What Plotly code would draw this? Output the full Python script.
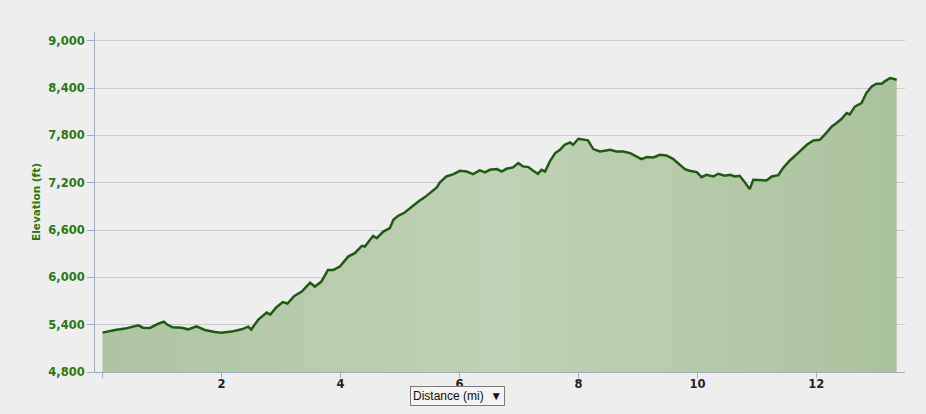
import plotly.graph_objects as go

distance_mi = [
    0.00, 0.21, 0.38, 0.49, 0.60, 0.68, 0.80, 0.93, 1.03, 1.08, 1.18, 1.33, 1.44, 1.58, 1.72, 1.89,
    2.00, 2.17, 2.34, 2.45, 2.50, 2.62, 2.76, 2.82, 2.92, 3.03, 3.11, 3.22, 3.35, 3.49, 3.57, 3.68,
    3.79, 3.88, 3.99, 4.13, 4.24, 4.36, 4.41, 4.55, 4.61, 4.72, 4.83, 4.89, 4.97, 5.08, 5.20, 5.31,
    5.42, 5.53, 5.62, 5.67, 5.78, 5.90, 6.01, 6.12, 6.23, 6.34, 6.43, 6.51, 6.63, 6.71, 6.79, 6.90,
    6.99, 7.07, 7.16, 7.24, 7.32, 7.38, 7.44, 7.52, 7.61, 7.69, 7.77, 7.86, 7.91, 8.00, 8.08, 8.16,
    8.25, 8.36, 8.47, 8.53, 8.64, 8.75, 8.87, 8.98, 9.06, 9.15, 9.26, 9.37, 9.48, 9.59, 9.71, 9.79,
    9.87, 9.99, 10.07, 10.15, 10.27, 10.35, 10.46, 10.55, 10.63, 10.71, 10.80, 10.88, 10.94, 11.05,
    11.16, 11.25, 11.36, 11.44, 11.55, 11.69, 11.84, 11.95, 12.06, 12.14, 12.26, 12.34, 12.42, 12.51,
    12.56, 12.65, 12.76, 12.84, 12.93, 13.01, 13.10, 13.15, 13.24, 13.29, 13.35,
]
elevation_ft = [
    5299, 5333, 5350, 5367, 5392, 5362, 5358, 5409, 5438, 5405, 5367, 5362, 5341, 5380, 5333, 5308,
    5299, 5312, 5341, 5375, 5339, 5465, 5555, 5528, 5618, 5686, 5668, 5762, 5819, 5933, 5883, 5946,
    6094, 6094, 6136, 6263, 6306, 6399, 6390, 6526, 6496, 6580, 6623, 6729, 6780, 6822, 6898, 6961,
    7017, 7080, 7139, 7202, 7279, 7309, 7351, 7342, 7309, 7355, 7330, 7363, 7372, 7342, 7376, 7393,
    7448, 7406, 7397, 7351, 7313, 7363, 7342, 7469, 7575, 7617, 7681, 7710, 7681, 7757, 7744, 7736,
    7626, 7596, 7609, 7617, 7596, 7596, 7575, 7533, 7499, 7524, 7520, 7554, 7545, 7503, 7427, 7372,
    7351, 7334, 7270, 7300, 7279, 7313, 7287, 7300, 7279, 7287, 7202, 7118, 7237, 7228,
    7228, 7279, 7296, 7385, 7478, 7575, 7681, 7736, 7744, 7808, 7913, 7956, 8007, 8083,
    8066, 8167, 8209, 8336, 8420, 8454, 8454, 8484, 8527, 8518, 8505,
]
x_tick_vals = [0, 2, 4, 6, 8, 10, 12]
x_tick_text = ["", "2", "4", "6", "8", "10", "12"]
y_tick_vals = [4800, 5400, 6000, 6600, 7200, 7800, 8400, 9000]

BG = "#eeeeee"
GREEN_TXT = "#2a7a0c"
AXIS_C = "#a4acbc"

fig = go.Figure()
fig.add_trace(go.Scatter(
    x=distance_mi, y=elevation_ft, mode="lines",
    line=dict(color="#1d5c10", width=2.5),
    fill="tozeroy",
    fillgradient=dict(type="horizontal",
                      colorscale=[[0, "#aec4a1"], [0.5, "#bfd2b5"], [1, "#abc29e"]]),
    hoverinfo="x+y", showlegend=False,
))

fig.update_layout(
    width=926, height=414,
    margin=dict(l=95, r=21, t=32, b=42),
    paper_bgcolor=BG, plot_bgcolor=BG,
    font=dict(family="DejaVu Sans", size=11),
    xaxis=dict(
        range=[-0.126, 13.49], tickvals=x_tick_vals, ticktext=x_tick_text,
        showgrid=False, zeroline=False,
        showline=True, linecolor=AXIS_C, linewidth=1,
        ticks="outside", ticklen=5, tickcolor=AXIS_C, ticklabelstandoff=-4,
        tickfont=dict(family="DejaVu Sans", size=11.5, color="#222222", weight="bold"),
    ),
    yaxis=dict(
        range=[4800, 9110], tickvals=y_tick_vals, tickformat=",d",
        showgrid=True, gridcolor="#cbcbcb", gridwidth=1, zeroline=False,
        showline=True, linecolor=AXIS_C, linewidth=1,
        ticks="outside", ticklen=7, tickcolor=AXIS_C,
        tickfont=dict(family="DejaVu Sans", size=11.5, color=GREEN_TXT, weight="bold"),
        title=dict(text="Elevation (ft)", standoff=5,
                   font=dict(family="DejaVu Sans", size=10.5, color=GREEN_TXT, weight="bold")),
    ),
    annotations=[dict(
        text="Distance (mi)  ▼", xref="paper", yref="paper", x=0.448, y=-0.072,
        xanchor="center", yanchor="middle", showarrow=False,
        font=dict(family="Liberation Sans", size=12, color="#111111"),
        bgcolor="#f4f4f4", bordercolor="#7a7a7a", borderwidth=1, borderpad=2,
    )],
)

fig.write_html(
    "out.html",
    config={"displayModeBar": False},
    post_script="document.body.style.margin='0';document.body.style.background='#eeeeee';"
                "document.body.style.overflow='hidden';",
)
